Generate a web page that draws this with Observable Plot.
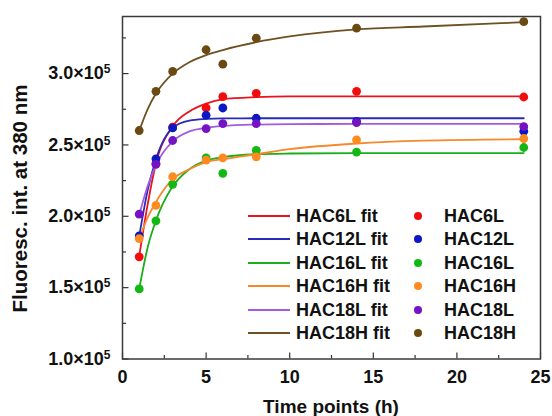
<!DOCTYPE html>
<html>
<head>
<meta charset="utf-8">
<script src="https://cdn.jsdelivr.net/npm/d3@7"></script>
<script src="https://cdn.jsdelivr.net/npm/@observablehq/plot@0.6"></script>
<style>
  body { margin: 0; background: #fff; font-family: "Liberation Sans", Arial, sans-serif; }
  #wrap { position: relative; width: 552px; height: 416px; }
  #legend { position: absolute; left: 0; top: 0; width: 552px; height: 416px; pointer-events: none; }
  .row { position: absolute; height: 24px; font-weight: bold; font-size: 18px; color: #111; }
  .swatch-line { position: absolute; height: 2px; }
  .swatch-dot { position: absolute; width: 8px; height: 8px; border-radius: 50%; }
  .lbl { position: absolute; white-space: nowrap; line-height: 24px; }
</style>
</head>
<body>
<div id="wrap"></div>
<script>
// ---- data ----
const seriesNames = ["HAC6L", "HAC12L", "HAC16L", "HAC16H", "HAC18L", "HAC18H"];
const pointColors = ["#f20d0d", "#0c18c2", "#14b814", "#ff8a1f", "#7412c4", "#6a4a12"];
const lineColors  = ["#e8141e", "#2a2ab8", "#1aae1a", "#f5892e", "#a35ce0", "#6e5122"];

const timePoints = [1, 2, 3, 5, 6, 8, 14, 24];
const hac6L  = [1.716e5, 2.37e5, 2.625e5, 2.759e5, 2.839e5, 2.862e5, 2.876e5, 2.836e5];
const hac12L = [1.863e5, 2.403e5, 2.619e5, 2.708e5, 2.759e5, 2.687e5, 2.665e5, 2.596e5];
const hac16L = [1.491e5, 1.968e5, 2.224e5, 2.410e5, 2.301e5, 2.462e5, 2.450e5, 2.482e5];
const hac16H = [1.844e5, 2.077e5, 2.277e5, 2.394e5, 2.410e5, 2.417e5, 2.536e5, 2.545e5];
const hac18L = [2.015e5, 2.364e5, 2.531e5, 2.615e5, 2.650e5, 2.650e5, 2.657e5, 2.629e5];
const hac18H = [2.601e5, 2.876e5, 3.015e5, 3.167e5, 3.066e5, 3.248e5, 3.318e5, 3.364e5];

const fitTimes  = [1, 1.5, 2, 3, 4, 5, 6, 8, 10, 14, 18, 24];
const hac6LFit  = [1.72e5, 2.08e5, 2.37e5, 2.63e5, 2.735e5, 2.79e5, 2.82e5, 2.835e5, 2.84e5, 2.84e5, 2.84e5, 2.84e5];
const hac12LFit = [1.86e5, 2.18e5, 2.40e5, 2.62e5, 2.67e5, 2.682e5, 2.686e5, 2.687e5, 2.687e5, 2.687e5, 2.687e5, 2.687e5];
const hac16LFit = [1.49e5, 1.78e5, 1.97e5, 2.21e5, 2.33e5, 2.39e5, 2.415e5, 2.435e5, 2.44e5, 2.443e5, 2.443e5, 2.443e5];
const hac16HFit = [1.84e5, 1.99e5, 2.10e5, 2.26e5, 2.33e5, 2.38e5, 2.40e5, 2.435e5, 2.47e5, 2.51e5, 2.53e5, 2.54e5];
const hac18LFit = [2.01e5, 2.21e5, 2.36e5, 2.525e5, 2.595e5, 2.62e5, 2.633e5, 2.643e5, 2.646e5, 2.647e5, 2.647e5, 2.647e5];
const hac18HFit = [2.60e5, 2.75e5, 2.86e5, 3.00e5, 3.08e5, 3.13e5, 3.165e5, 3.22e5, 3.26e5, 3.31e5, 3.33e5, 3.36e5];

const xTicks = [0, 5, 10, 15, 20, 25];
const xMinorTicks = [2.5, 7.5, 12.5, 17.5, 22.5];
const yTicks = [1.0e5, 1.5e5, 2.0e5, 2.5e5, 3.0e5];
const yMinorTicks = [1.25e5, 1.75e5, 2.25e5, 2.75e5, 3.25e5];

// ---- build tables ----
const pointSeries = [hac6L, hac12L, hac16L, hac16H, hac18L, hac18H];
const fitSeries = [hac6LFit, hac12LFit, hac16LFit, hac16HFit, hac18LFit, hac18HFit];
const points = [];
pointSeries.forEach((vals, s) => vals.forEach((v, i) => points.push({series: seriesNames[s], t: timePoints[i], v})));
const fits = [];
fitSeries.forEach((vals, s) => vals.forEach((v, i) => fits.push({series: seriesNames[s], t: fitTimes[i], v})));

const fontFamily = '"Liberation Sans", Arial, sans-serif';

const chart = Plot.plot({
  width: 552,
  height: 416,
  marginLeft: 122,
  marginRight: 12,
  marginTop: 16,
  marginBottom: 57.5,
  style: {fontFamily, fontWeight: "bold", fontSize: "18px", color: "#111", background: "#fff"},
  x: {domain: [0, 25]},
  y: {domain: [1.0e5, 3.4e5]},
  marks: [
    Plot.axisX({ticks: xMinorTicks, tickSize: -3.5, tickFormat: () => "", label: null, strokeWidth: 1.2, stroke: "#333"}),
    Plot.axisX({ticks: xTicks, tickSize: -6, tickPadding: 17.5, tickFormat: d => String(d), label: null, fontSize: 18, strokeWidth: 1.2, stroke: "#333", fill: "#111"}),
    Plot.axisY({ticks: yMinorTicks, tickSize: -4, tickFormat: () => "", label: null, strokeWidth: 1.2, stroke: "#333"}),
    Plot.axisY({ticks: yTicks, tickSize: -6.5, tickPadding: 18.5, tickFormat: d => (d / 1e5).toFixed(1) + "×10", label: null, fontSize: 18, strokeWidth: 1.2, stroke: "#333", fill: "#111"}),
    Plot.line(fits, {x: "t", y: "v", z: "series", stroke: d => lineColors[seriesNames.indexOf(d.series)], strokeWidth: 1.8, curve: "monotone-x"}),
    Plot.dot(points, {x: "t", y: "v", r: 4.4, fill: d => pointColors[seriesNames.indexOf(d.series)], stroke: "none"}),
    Plot.frame({stroke: "#3a3a3a", strokeWidth: 1.5})
  ]
});

// superscript exponent on y tick labels
d3.select(chart).selectAll('g[aria-label="y-axis tick label"] text').each(function() {
  const t = d3.select(this);
  if (t.text().includes("×10")) {
    t.append("tspan").attr("dy", "-0.5em").attr("font-size", "12px").text("5");
  }
});

// axis titles
const svg = d3.select(chart);
svg.append("text")
  .attr("x", 331).attr("y", 413)
  .attr("text-anchor", "middle")
  .attr("font-size", "19px").attr("font-weight", "bold").attr("fill", "#111")
  .text("Time points (h)");
svg.append("text")
  .attr("transform", "translate(27,198.5) rotate(-90)")
  .attr("text-anchor", "middle")
  .attr("font-size", "20.5px").attr("font-weight", "bold").attr("fill", "#111")
  .text("Fluoresc. int. at 380 nm");

const wrap = document.getElementById("wrap");
wrap.appendChild(chart);

// legend (inside the plot area, two columns: fit lines and data points)
const legend = document.createElement("div");
legend.id = "legend";
seriesNames.forEach((name, i) => {
  const cy = 216 + i * 23.4;
  const row = document.createElement("div");
  row.className = "row";
  row.style.left = "0px";
  row.style.top = (cy - 12) + "px";
  row.style.width = "552px";
  const ln = document.createElement("div");
  ln.className = "swatch-line";
  ln.style.left = "248px"; ln.style.width = "42px"; ln.style.top = "11px";
  ln.style.background = lineColors[i];
  const t1 = document.createElement("div");
  t1.className = "lbl"; t1.style.left = "296px"; t1.style.top = "0px";
  t1.textContent = name + " fit";
  const dot = document.createElement("div");
  dot.className = "swatch-dot";
  dot.style.left = "413.7px"; dot.style.top = "8px";
  dot.style.background = pointColors[i];
  const t2 = document.createElement("div");
  t2.className = "lbl"; t2.style.left = "444px"; t2.style.top = "0px";
  t2.textContent = name;
  row.append(ln, t1, dot, t2);
  legend.appendChild(row);
});
wrap.appendChild(legend);
</script>
</body>
</html>
